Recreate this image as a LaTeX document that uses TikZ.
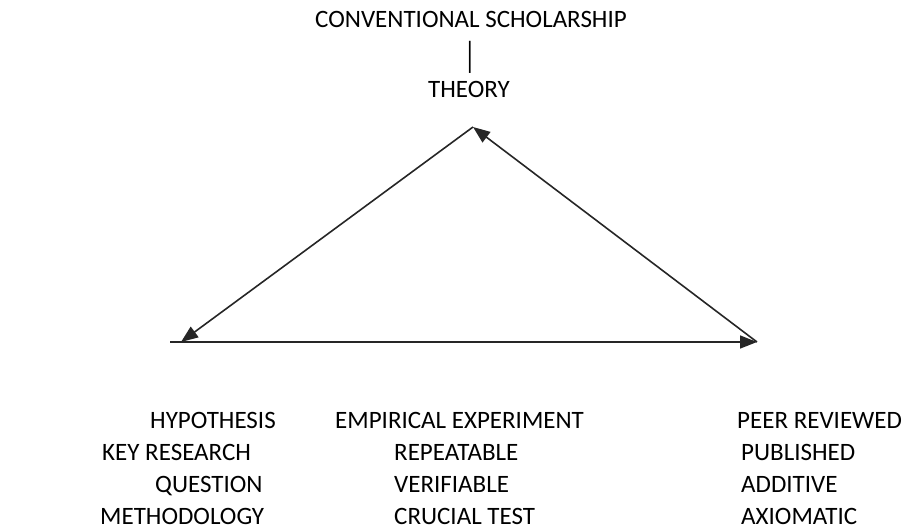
\documentclass[tikz,border=0pt]{standalone}
\usepackage{fontspec}
\setmainfont{Carlito}
\usetikzlibrary{arrows.meta}

\begin{document}
\begin{tikzpicture}[x=1pt,y=-1pt]
        \tikzset{lbl/.style={anchor=base west,inner sep=0pt,font=\fontsize{25}{35}\selectfont},
            ctr/.style={anchor=base,inner sep=0pt,font=\fontsize{25}{35}\selectfont},
            arr/.style={draw=black!85,line width=1.6pt,-{Triangle[length=17pt,width=13pt]}}}
        \useasboundingbox (0,0) rectangle (913,531);
        % top
        \node[ctr] (conv) at (471,27) {CONVENTIONAL SCHOLARSHIP};
        \node[ctr] (bar) at (470,67) {\scalebox{1}[1.45]{|}};
        \node[ctr] (theory) at (469,97) {THEORY};
        % triangle
        \coordinate (apex) at (473,127);
        \coordinate (left) at (170,342);
        \coordinate (lefttip) at (181,342);
        \coordinate (right) at (757,342);
        \draw[arr] (apex) -- (lefttip);
        \draw[arr] (right) -- (apex);
        \draw[arr] (left) -- (right);
        % columns
        \node[lbl] (hyp) at (150,428) {HYPOTHESIS};
        \node[lbl] (key) at (102,460) {KEY RESEARCH};
        \node[lbl] (que) at (155,492) {QUESTION};
        \node[lbl] (met) at (100,524) {METHODOLOGY};
        \node[lbl] (emp) at (335,428) {EMPIRICAL EXPERIMENT};
        \node[lbl] (rep) at (394,460) {REPEATABLE};
        \node[lbl] (ver) at (394,492) {VERIFIABLE};
        \node[lbl] (cru) at (394,524) {CRUCIAL TEST};
        \node[lbl] (peer) at (737,428) {PEER REVIEWED};
        \node[lbl] (pub) at (741,460) {PUBLISHED};
        \node[lbl] (add) at (741,492) {ADDITIVE};
        \node[lbl] (axi) at (741,524) {AXIOMATIC};
\end{tikzpicture}
\end{document}
